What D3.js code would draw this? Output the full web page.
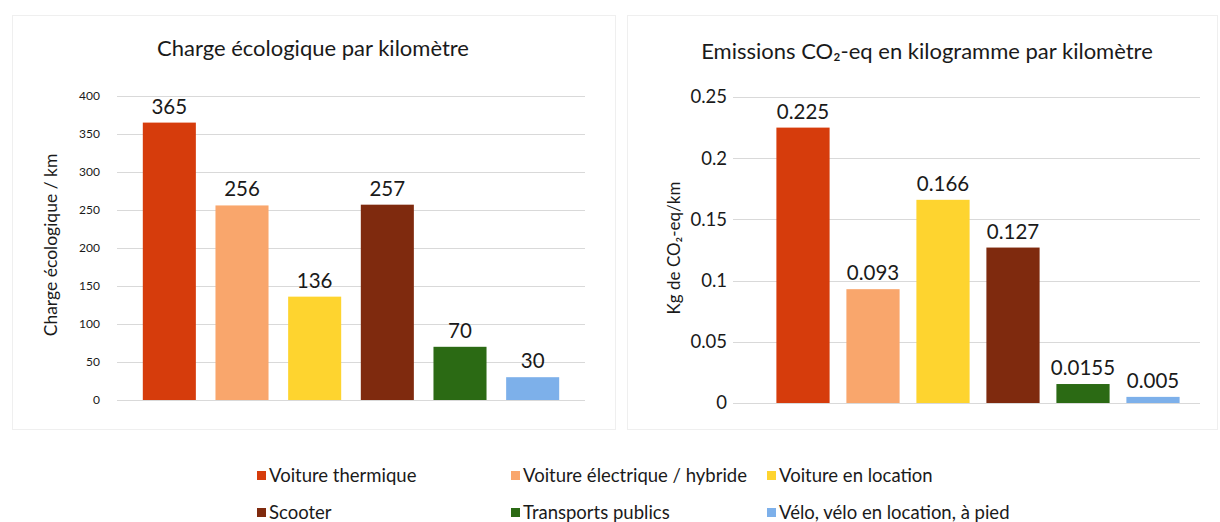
<!DOCTYPE html>
<html lang="fr">
<head>
<meta charset="utf-8">
<title>Charge écologique et émissions CO2 par kilomètre</title>
<script src="https://cdn.jsdelivr.net/npm/d3@7"></script>
<style>
  body { margin: 0; background: #ffffff; }
  svg text { font-family: Lato, "Open Sans", sans-serif; fill: #1a1a1a; }
</style>
</head>
<body>
<script>
// ---- data ----
var categories = ["Voiture thermique", "Voiture électrique / hybride", "Voiture en location",
                  "Scooter", "Transports publics", "Vélo, vélo en location, à pied"];
var chargeValues = [365, 256, 136, 257, 70, 30];
var chargeLabels = ["365", "256", "136", "257", "70", "30"];
var co2Values = [0.225, 0.093, 0.166, 0.127, 0.0155, 0.005];
var co2Labels = ["0.225", "0.093", "0.166", "0.127", "0.0155", "0.005"];
var chargeTicks = [0, 50, 100, 150, 200, 250, 300, 350, 400];
var co2Ticks = [0, 0.05, 0.1, 0.15, 0.2, 0.25];
var colors = ["#d63c0c", "#f9a66c", "#fed42f", "#7f2a0e", "#2b6a14", "#7db0ea"];

var W = 1220, H = 522;
var svg = d3.select("body").append("svg").attr("width", W).attr("height", H);

// panel frames
svg.append("rect").attr("x", 12.5).attr("y", 15.5).attr("width", 603).attr("height", 414)
   .attr("fill", "none").attr("stroke", "#efefef");
svg.append("rect").attr("x", 627.5).attr("y", 15.5).attr("width", 590).attr("height", 414)
   .attr("fill", "none").attr("stroke", "#efefef");

/*----------------------------- one bar chart ------------------------------*/
function barChart(opt) {
  var g = svg.append("g");
  var x = d3.scaleBand().domain(categories).range(opt.xRange)
            .paddingInner(opt.padding).paddingOuter(opt.padding / 2);
  var y = d3.scaleLinear().domain([0, opt.max]).range(opt.yRange);

  // gridlines
  g.selectAll(".grid").data(opt.ticks).enter().append("line")
   .attr("x1", opt.gridX[0]).attr("x2", opt.gridX[1])
   .attr("y1", function(d) { return Math.round(y(d)) + 0.5; })
   .attr("y2", function(d) { return Math.round(y(d)) + 0.5; })
   .attr("stroke", "#d9d9d9").attr("stroke-width", 1);

  // tick labels
  g.selectAll(".tick").data(opt.ticks).enter().append("text")
   .attr("x", opt.tickX).attr("y", function(d) { return y(d); })
   .attr("dy", "0.35em").attr("text-anchor", "end")
   .attr("font-size", opt.tickSize).attr("fill", "#333")
   .text(function(d) { return String(d); });

  // bars
  g.selectAll(".bar").data(opt.values).enter().append("rect")
   .attr("x", function(d, i) { return x(categories[i]); })
   .attr("y", function(d) { return y(d); })
   .attr("width", x.bandwidth())
   .attr("height", function(d) { return y(0) - y(d); })
   .attr("fill", function(d, i) { return colors[i]; });

  // value labels
  g.selectAll(".val").data(opt.values).enter().append("text")
   .attr("x", function(d, i) { return x(categories[i]) + x.bandwidth() / 2; })
   .attr("y", function(d) { return y(d) - 9; })
   .attr("text-anchor", "middle").attr("font-size", opt.labelSize)
   .text(function(d, i) { return opt.labels[i]; });

  // title
  g.append("text").attr("x", opt.titleX).attr("y", opt.titleY)
   .attr("text-anchor", "middle").attr("font-size", 22)
   .text(opt.title);

  // y axis title
  g.append("text")
   .attr("transform", "translate(" + opt.axisTitleX + "," + opt.axisTitleY + ") rotate(-90)")
   .attr("text-anchor", "middle").attr("font-size", opt.axisTitleSize)
   .text(opt.axisTitle);
}

barChart({
  values: chargeValues, labels: chargeLabels, ticks: chargeTicks, max: 400,
  xRange: [133, 569], padding: 0.27, yRange: [400, 96], gridX: [117, 585],
  tickX: 100, tickSize: 12, labelSize: 20.5,
  title: "Charge écologique par kilomètre", titleX: 313, titleY: 56,
  axisTitle: "Charge écologique / km", axisTitleX: 57, axisTitleY: 245, axisTitleSize: 17.5
});

barChart({
  values: co2Values, labels: co2Labels, ticks: co2Ticks, max: 0.25,
  xRange: [768, 1188], padding: 0.24, yRange: [403, 97], gridX: [733, 1200],
  tickX: 727, tickSize: 18.5, labelSize: 20.5,
  title: "Emissions CO₂-eq en kilogramme par kilomètre", titleX: 927, titleY: 59,
  axisTitle: "Kg de CO₂-eq/km", axisTitleX: 680, axisTitleY: 248, axisTitleSize: 17
});

/*------------------------------- legend -----------------------------------*/
var legCols = [257, 511, 767], legRows = [476, 513];
var legend = svg.append("g").selectAll("g").data(categories).enter().append("g")
  .attr("transform", function(d, i) {
    return "translate(" + legCols[i % 3] + "," + legRows[Math.floor(i / 3)] + ")";
  });
legend.append("rect").attr("x", 0).attr("y", -5).attr("width", 9).attr("height", 9)
  .attr("fill", function(d, i) { return colors[i]; });
legend.append("text").attr("x", 12).attr("y", 0).attr("dy", "0.35em")
  .attr("font-size", 18.5).text(function(d) { return d; });
</script>
</body>
</html>
